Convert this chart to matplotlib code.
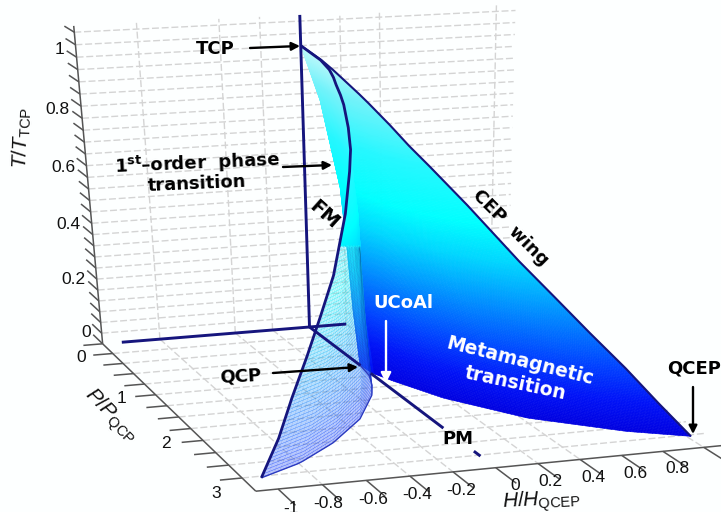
import numpy as np
import matplotlib
matplotlib.use("Agg")
import matplotlib.pyplot as plt
from matplotlib.colors import LinearSegmentedColormap
from mpl_toolkits.mplot3d import proj3d
from mpl_toolkits.mplot3d.art3d import Line3DCollection

plt.rcParams['mathtext.fontset'] = 'custom'
plt.rcParams['mathtext.rm'] = 'Liberation Sans'
plt.rcParams['mathtext.it'] = 'Liberation Sans:italic'
plt.rcParams['mathtext.bf'] = 'DejaVu Sans:bold'

# critical end point line of the wings (T, |H|, P)
T_cep = [1, .985, .97, .955, .94, .92, .9, .875, .85, .825, .8, .75, .7, .65, .6, .5, .4, .3, .2, .1, 0]
H_cep = [0, .002, .008, .018, .03, .045, .06, .08, .10, .12, .14, .19, .24, .29, .34, .44, .555, .67, .79, .90, 1.02]
P_cep = [0, .38, .56, .67, .76, .89, 1.0, 1.11, 1.22, 1.31, 1.40, 1.56, 1.70, 1.84, 1.95, 2.17, 2.36, 2.54, 2.72, 2.89, 3.03]

# first order line at H = 0, TCP down to QCP
T_first = [1, .85, .59, .39, .185, 0]
P_first = [0, .34, .68, .785, .876, .99]

# wing edges on the T = 0 floor, as fractions between first order line and CEP
u_right = [0, .007, .054, .175, .42, .76, 1]
v_right = [0, .097, .20, .42, .69, .90, 1]
u_left = [0, .02, .064, .122, .307, .545, .777, 1]
v_left = [0, .12, .223, .325, .551, .752, .903, 1]

# axes
T_ticks = [0, .2, .4, .6, .8, 1]
T_labels = ['0', '0.2', '0.4', '0.6', '0.8', '1']
P_ticks = [0, 1, 2, 3]
H_ticks = [-1, -.8, -.6, -.4, -.2, 0, .2, .4, .6, .8]
H_labels = ['-1', '-0.8', '-0.6', '-0.4', '-0.2', '0', '0.2', '0.4', '0.6', '0.8']
H_grid = [-.8, -.4, -.2, .2, .4, 1]
H_min, H_max, P_max, T_max = -1.1, 1.1, 3.25, 1.1

# camera fitted on the axis ticks of the picture
C = np.array([[190.029562, 34.202492, -31.246103, 309.499073],
              [-8.66337, 21.492415, -284.826527, 326.999335],
              [0.019241, -0.046618, -0.074753, 1.0]])
M = np.array([C[0], C[1], [0, 0, 0, -1], C[2]])

W, H_px = 721, 512
bg = '#fdffff'
navy = '#15157d'
grey = '#d4d4d4'
axis_col = '#555555'
y_mesh = 245  # below this height on the picture the left wing is only a mesh

fig = plt.figure(figsize=(7.21, 5.12), dpi=100, facecolor=bg)
ax = fig.add_axes([0, 0, 1, 1], projection='3d')
ax.set_axis_off()
ax.set_xticks([])
ax.set_yticks([])
ax.set_zticks([])
ax.patch.set_visible(False)
ax.computed_zorder = False
ax.set_autoscale_on(False)
ax.get_proj = lambda: M
ax.apply_aspect = lambda position=None: None
ax._viewLim.set_points(np.array([[0., H_px], [W, 0.]]))


def label(x, y, s, **kw):
    kw.setdefault('ha', 'center')
    kw.setdefault('va', 'center')
    kw.setdefault('family', 'DejaVu Sans')
    kw.setdefault('fontweight', 'bold')
    kw.setdefault('fontsize', 13)
    fig.text(x / W, 1 - y / H_px, s, **kw)


def arrow(x0, y0, x1, y1, color='black', size=12):
    ax.annotate('', xy=(x1, y1), xytext=(x0, y0), xycoords='data', textcoords='data', zorder=20,
                arrowprops=dict(arrowstyle='-|>', color=color, lw=1.7, mutation_scale=size, shrinkA=0, shrinkB=0))


def line3(h, p, t, **kw):
    h, p, t = np.broadcast_arrays(h, p, t)
    ax.add_collection3d(Line3DCollection([np.c_[h, p, t]], **kw), autolim=False)


def text3(h, p, t, s, **kw):
    x, y, _ = proj3d.proj_transform(h, p, t, M)
    ax.text2D(x, y, s, transform=ax.transData, **kw)


# dashed grid on wall and floor
gkw = dict(colors=grey, linewidths=1, linestyles=[(0, (5, 2))], zorder=1)
for t in np.arange(.04, 1.09, .04):
    line3([H_min, H_max], 0, t, **gkw)
for p in np.arange(.25, 3.1, .25):
    line3([H_min, H_max], p, 0, **gkw)
for h in H_grid:
    line3(h, 0, [0, T_max], **gkw)
    line3(h, [0, P_max], 0, **gkw)

# box axes with ticks
akw = dict(colors=axis_col, linewidths=1.1, zorder=3)
line3(H_min, 0, [0, T_max], **akw)
line3(H_min, [0, P_max], 0, **akw)
line3([H_min, H_max], P_max, 0, **akw)
for t in np.arange(0, 1.09, .04):
    line3(H_min, [-.24, 0], t, **akw)
for p in np.arange(0, 3.01, .25):
    line3([H_min - .1, H_min], p, 0, **akw)
for h in np.arange(-1, 1.01, .2):
    line3(h, [P_max, P_max + .3], 0, **akw)

tkw = dict(fontsize=12.5, family='Liberation Sans', color='#111111', zorder=5)
for t, s in zip(T_ticks, T_labels):
    text3(H_min, -.3, t, s, ha='right', va='center', **tkw)
for p in P_ticks:
    text3(H_min - .12, p, -.045, str(p), ha='center', va='center', **tkw)
for h, s in zip(H_ticks, H_labels):
    text3(h, P_max + .35, 0, s, ha='right', va='center', **tkw)

# navy H, P, T lines through the origin, PM label interrupts the P line
nkw = dict(colors=navy, linewidths=2.1, zorder=9.5)
line3(0, 0, [0, T_max], **nkw)
line3([-1, .2], 0, 0, **nkw)
line3(0, [0, 1.0], 0, **nkw)
line3(0, [1.19, 2.44], 0, **nkw)
line3(0, [2.92, 3.02], 0, **nkw)

# wing colours run with T
cmap = LinearSegmentedColormap.from_list('wing', [
    (0.00, (0, 0, .88)), (0.10, (0, .07, .97)), (0.20, (0, .25, 1.0)), (0.30, (0, .45, 1.0)),
    (0.40, (0, .65, 1.0)), (0.50, (0, .85, 1.0)), (0.60, (0, 1.0, 1.0)), (0.75, (.15, .97, 1.0)),
    (0.90, (.45, .95, .98)), (1.00, (.75, .97, .98))])


def wing(t_rows, sign, n_cols=110):
    # H, P, T mesh of one wing, the fraction along it and the height on the picture
    u = np.linspace(0, 1, n_cols) ** 1.6
    T, U = np.meshgrid(t_rows, u, indexing='ij')
    hc = np.interp(T, T_cep[::-1], H_cep[::-1])
    pc = np.interp(T, T_cep[::-1], P_cep[::-1])
    p1 = np.interp(T, T_first[::-1], P_first[::-1])
    Hm = sign * U * hc
    if sign > 0:
        Pm = p1 + (pc - p1) * np.interp(U, u_right, v_right)
    else:
        Pm = p1 + (pc - p1) * np.interp(U, u_left, v_left)
    w = C[2, 0] * Hm + C[2, 1] * Pm + C[2, 2] * T + C[2, 3]
    y = (C[1, 0] * Hm + C[1, 1] * Pm + C[1, 2] * T + C[1, 3]) / w
    return Hm, Pm, T, U, y


# right wing, with the lighter strip next to the first order line
Hr, Pr, Tr, Ur, yr = wing(np.linspace(1, 0, 200), 1)
col = cmap(np.clip(Tr + .07 * (Ur < .012), 0, 1))
ax.plot_surface(Hr, Pr, Tr, facecolors=col, rstride=1, cstride=1, shade=False, linewidth=.4, zorder=6)

# left wing, solid at the top
Hl, Pl, Tl, Ul, yl = wing(np.linspace(1, 0, 260), -1)
col = cmap(Tl)
col[..., 3] = (yl < y_mesh) * 1.0
ax.plot_surface(Hl, Pl, Tl, facecolors=col, rstride=1, cstride=1, shade=False, linewidth=.4, zorder=7)

# lower part of the left wing is only a fine mesh, so the floor shows through it
col = cmap(np.clip(Tl + .15, 0, 1))
col[..., :3] = col[..., :3] * .75 + .25
col[..., 3] = (yl >= y_mesh) * .4
ax.plot_surface(Hl, Pl, Tl, facecolors=col, rstride=1, cstride=1, shade=False, linewidth=0, zorder=8)

Hl, Pl, Tl, Ul, yl = wing(np.arange(.64, -.001, -.01), -1)
Pl = np.where(yl < y_mesh, np.nan, Pl)
for i in range(len(Hl)):
    rgb = cmap(min(Tl[i, 0] + .15, 1))[:3]
    line3(Hl[i], Pl[i], Tl[i], colors=[rgb], linewidths=.3, alpha=.7, zorder=9)
Hl, Pl, Tl, Ul, yl = wing(np.linspace(.64, 0, 60), -1, n_cols=45)
Pl = np.where(yl < y_mesh, np.nan, Pl)
for j in range(Hl.shape[1]):
    line3(Hl[:, j], Pl[:, j], Tl[:, j], colors=navy, linewidths=.2, alpha=.22, zorder=9)
line3(Hl[-1], Pl[-1], Tl[-1], colors='#2c3cc0', linewidths=1, zorder=9)

# CEP lines
line3(H_cep, P_cep, T_cep, colors=navy, linewidths=1.5, zorder=10)
line3(-np.array(H_cep), P_cep, T_cep, colors=navy, linewidths=2, zorder=10)

# annotations
label(215, 49, 'TCP')
label(197, 163, r'1$^{\mathbf{st}}$–order  phase', rotation=2.5)
label(197, 184, 'transition', rotation=2.5)
label(510, 228, 'CEP  wing', rotation=-45)
label(324, 215, 'FM', rotation=-42, fontsize=14)
label(403, 303, 'UCoAl', color='white')
label(520, 361, 'Metamagnetic', color='white', rotation=-14, fontsize=13.5)
label(515, 383, 'transition', color='white', rotation=-12, fontsize=13.5)
label(241, 376, 'QCP', rotation=3)
label(458, 439, 'PM')
label(667, 369, 'QCEP', ha='left')
arrow(250, 48, 300, 46)
arrow(283, 167, 332, 165)
arrow(273, 373, 358, 367)
arrow(693, 387, 693, 434)
arrow(386, 321, 386, 383, color='white', size=15)

lab = dict(family='Liberation Sans', fontweight='normal', fontsize=15, color='#111111')
label(22, 138, r'$T/T_{\mathrm{TCP}}$', rotation=88, **lab)
label(110, 416, r'$P/P_{\mathrm{QCP}}$', rotation=-46, **lab)
label(542, 501, r'$H/H_{\mathrm{QCEP}}$', rotation=3, **lab)

ax._viewLim.set_points(np.array([[0., H_px], [W, 0.]]))
fig.savefig('out.png', dpi=100, facecolor=bg)
